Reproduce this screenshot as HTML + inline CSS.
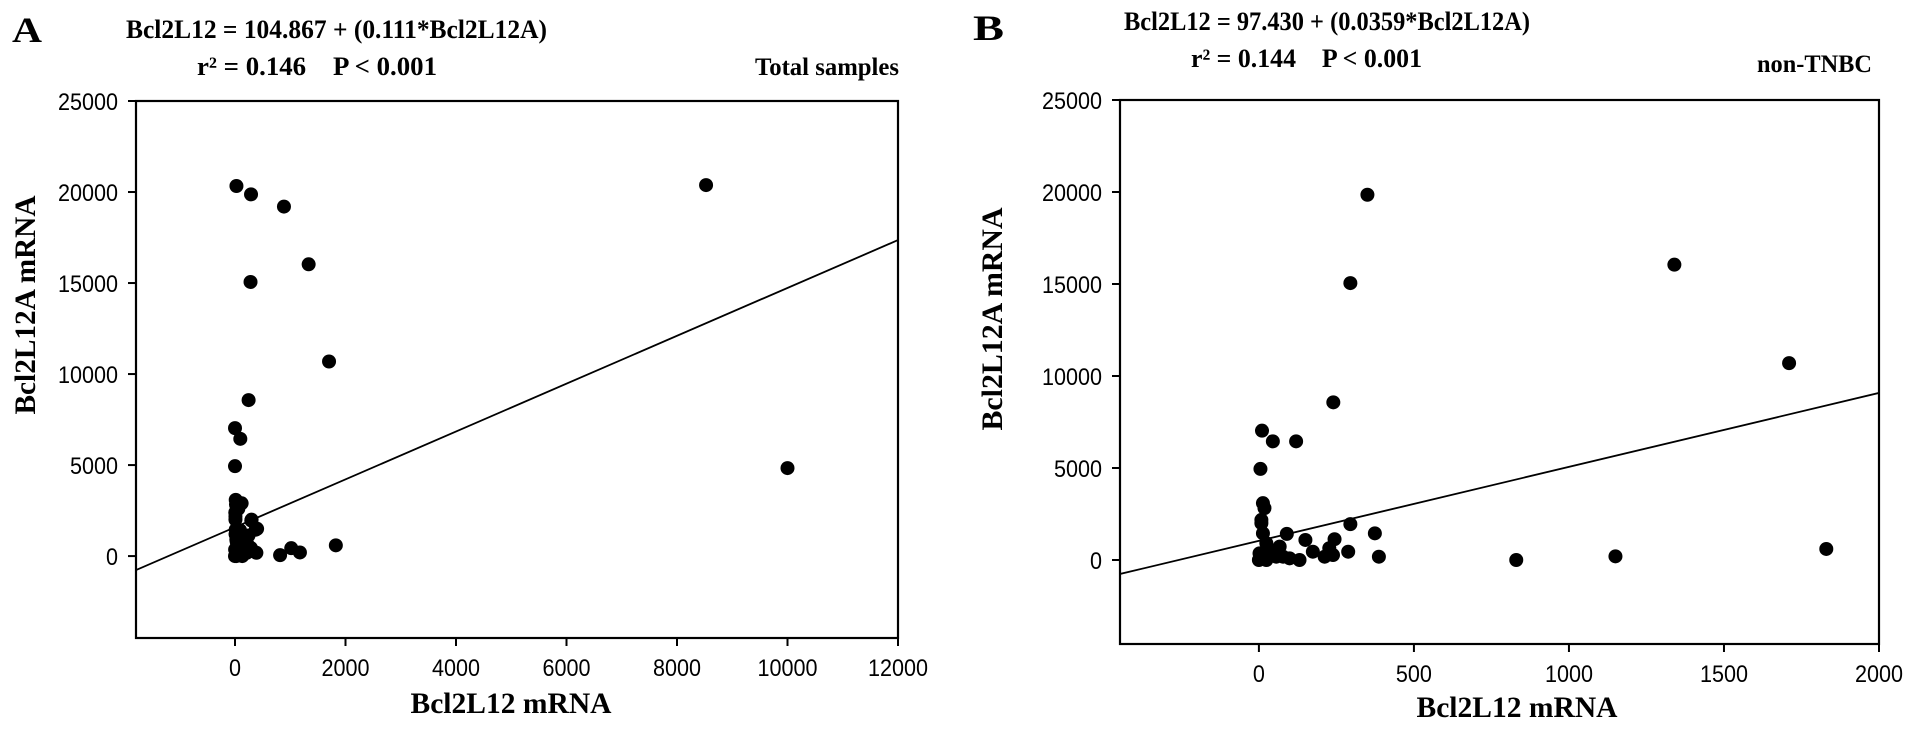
<!DOCTYPE html>
<html><head><meta charset="utf-8"><style>
html,body{margin:0;padding:0;background:#fff;}
svg{display:block;}
.ser{font-family:"Liberation Serif",serif;font-weight:bold;fill:#000;}
.tick{font-family:"Liberation Sans",sans-serif;font-size:24px;fill:#000;}
</style></head><body>
<svg id="fig" width="1913" height="729" viewBox="0 0 1913 729" xmlns="http://www.w3.org/2000/svg">
<g>
<text class="ser" x="12" y="42" font-size="36" textLength="30" lengthAdjust="spacingAndGlyphs">A</text>
<text class="ser" x="126" y="38" font-size="26" textLength="421" lengthAdjust="spacingAndGlyphs">Bcl2L12 = 104.867 + (0.111*Bcl2L12A)</text>
<text class="ser" x="197" y="75" font-size="26" textLength="240" lengthAdjust="spacingAndGlyphs">r² = 0.146&#160;&#160;&#160;&#160;P &lt; 0.001</text>
<text class="ser" x="755" y="75" font-size="25" textLength="144" lengthAdjust="spacingAndGlyphs">Total samples</text>
</g>
<g>
<text class="ser" x="973" y="40" font-size="36" textLength="31" lengthAdjust="spacingAndGlyphs">B</text>
<text class="ser" x="1124" y="30" font-size="26" textLength="406" lengthAdjust="spacingAndGlyphs">Bcl2L12 = 97.430 + (0.0359*Bcl2L12A)</text>
<text class="ser" x="1191" y="67" font-size="26" textLength="231" lengthAdjust="spacingAndGlyphs">r² = 0.144&#160;&#160;&#160;&#160;P &lt; 0.001</text>
<text class="ser" x="1757" y="72" font-size="25" textLength="115" lengthAdjust="spacingAndGlyphs">non-TNBC</text>
</g>
<g id="chartA"></g>
<g id="chartB"></g>
</svg>
<script>
// Panel A data
const aX = [26,290,886,1333,281,1702,246,0,96,0,8526,10000,816,1018,1175,1825,
  13,18,8,8,13,24,2,0,24,45,67,90,78,99,131,150,174,212,227,244,239,288,295,374,387,35,56,300,400,120,60,5,10,30];
const aY = [20330,19870,19200,16030,15060,10690,8570,7030,6440,4940,20380,4835,50,435,200,590,
  3090,2820,2180,2000,1450,910,360,0,0,360,730,1420,180,90,0,1090,450,180,640,1130,270,450,1950,1450,180,545,180,2000,1500,2900,2600,2400,1200,800];
const aXTicks = [0,2000,4000,6000,8000,10000,12000];
const aYTicks = [0,5000,10000,15000,20000,25000];
const aFit = [1586,1.3145]; // intercept, slope

// Panel B data
const bX = [350,295,1340,1710,240,10,45,120,5,830,1150,1830,
  13,18,8,8,13,24,2,0,24,45,67,90,78,99,131,150,174,212,227,244,239,288,295,374,387,35,56,5];
const bY = [19850,15050,16050,10700,8570,7030,6450,6450,4950,0,200,600,
  3090,2820,2180,2000,1450,910,360,0,0,360,730,1420,180,90,0,1090,450,180,640,1130,270,450,1950,1450,180,545,180,90];
const bXTicks = [0,500,1000,1500,2000];
const bYTicks = [0,5000,10000,15000,20000,25000];
const bFit = [1041,4.02];

const NS = "http://www.w3.org/2000/svg";
function mk(parent, tag, attrs){const e=document.createElementNS(NS,tag);for(const k in attrs)e.setAttribute(k,attrs[k]);parent.appendChild(e);return e;}

function drawChart(g, cfg, xs, ys, xt, yt, fit){
  const sx=v=>cfg.x0+(v-cfg.xmin)/(cfg.xmax-cfg.xmin)*(cfg.x1-cfg.x0);
  const sy=v=>cfg.y1-(v-cfg.ymin)/(cfg.ymax-cfg.ymin)*(cfg.y1-cfg.y0);
  const clip=mk(g,'clipPath',{id:cfg.id+'clip'});
  mk(clip,'rect',{x:cfg.x0,y:cfg.y0,width:cfg.x1-cfg.x0,height:cfg.y1-cfg.y0});
  const ln=mk(g,'line',{x1:sx(cfg.xmin),y1:sy(fit[0]+fit[1]*cfg.xmin),x2:sx(cfg.xmax),y2:sy(fit[0]+fit[1]*cfg.xmax),stroke:'#000','stroke-width':1.8,'clip-path':'url(#'+cfg.id+'clip)'});
  
  
  for(let i=0;i<xs.length;i++){
    const c=mk(g,'circle',{cx:sx(xs[i]),cy:sy(ys[i]),r:7,fill:'#000'});
    
    
  }
  const fr=mk(g,'rect',{x:cfg.x0,y:cfg.y0,width:cfg.x1-cfg.x0,height:cfg.y1-cfg.y0,fill:'none',stroke:'#000','stroke-width':2.2});
  
  
  for(const t of xt){
    const x=sx(t);
    const tk=mk(g,'line',{x1:x,y1:cfg.y1,x2:x,y2:cfg.y1+8,stroke:'#000','stroke-width':2});
    
    
    const tx=mk(g,'text',{x:x,y:cfg.y1+38,'text-anchor':'middle',class:'tick'});
    tx.textContent=String(t);
    
    
    tx.setAttribute('textLength',String(t).length*cfg.cond);
    tx.setAttribute('lengthAdjust','spacingAndGlyphs');
  }
  for(const t of yt){
    const y=sy(t);
    const tk=mk(g,'line',{x1:cfg.x0-8,y1:y,x2:cfg.x0,y2:y,stroke:'#000','stroke-width':2});
    
    
    const tx=mk(g,'text',{x:cfg.x0-18,y:y+9,'text-anchor':'end',class:'tick'});
    tx.textContent=String(t);
    
    
    tx.setAttribute('textLength',String(t).length*cfg.cond);
    tx.setAttribute('lengthAdjust','spacingAndGlyphs');
  }
  const xtl=mk(g,'text',{x:cfg.xtx,y:cfg.xty,'text-anchor':'middle',class:'ser','font-size':30,textLength:201,lengthAdjust:'spacingAndGlyphs'});
  xtl.textContent='Bcl2L12 mRNA';
  
  
  const ytl=mk(g,'text',{x:0,y:0,'text-anchor':'middle',class:'ser','font-size':30,textLength:cfg.ytlen,lengthAdjust:'spacingAndGlyphs',transform:'translate('+cfg.ytx+','+cfg.yty+') rotate(-90)'});
  ytl.textContent='Bcl2L12A mRNA';
  
  
}

drawChart(document.getElementById('chartA'),
  {id:'a',x0:136,x1:898,y0:101,y1:638,xmin:-1792,xmax:12000,ymin:-4500,ymax:25000,
   xtx:511,xty:713,ytx:35,yty:305,ytlen:219,cond:12}, aX,aY,aXTicks,aYTicks,aFit);
drawChart(document.getElementById('chartB'),
  {id:'b',x0:1120,x1:1879,y0:100,y1:644,xmin:-448,xmax:2000,ymin:-4565,ymax:25000,
   xtx:1517,xty:717,ytx:1002,yty:319,ytlen:223,cond:12}, bX,bY,bXTicks,bYTicks,bFit);
</script>
</body></html>
